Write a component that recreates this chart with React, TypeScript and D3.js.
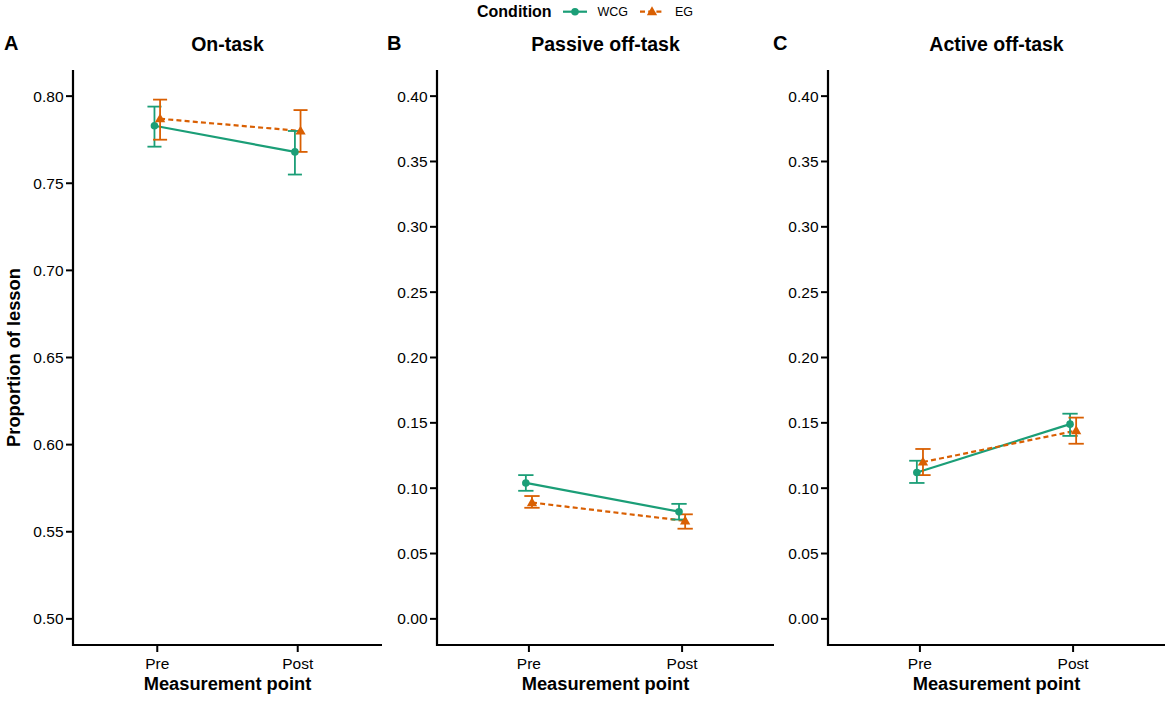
import * as d3 from 'd3';
import React from 'react';

const phases = ['Pre', 'Post'];
const conditions = ['WCG', 'EG'];
const colors: Record<string, string> = { WCG: '#1B9E77', EG: '#D95F02' };

// means and 95% CI per phase (Pre, Post)
const onTaskWCG = [0.783, 0.768];
const onTaskWCGLo = [0.771, 0.755];
const onTaskWCGHi = [0.794, 0.780];
const onTaskEG = [0.787, 0.780];
const onTaskEGLo = [0.775, 0.768];
const onTaskEGHi = [0.798, 0.792];

const passiveWCG = [0.104, 0.082];
const passiveWCGLo = [0.098, 0.076];
const passiveWCGHi = [0.110, 0.088];
const passiveEG = [0.089, 0.075];
const passiveEGLo = [0.085, 0.069];
const passiveEGHi = [0.094, 0.080];

const activeWCG = [0.112, 0.149];
const activeWCGLo = [0.104, 0.140];
const activeWCGHi = [0.121, 0.157];
const activeEG = [0.120, 0.144];
const activeEGLo = [0.110, 0.134];
const activeEGHi = [0.130, 0.154];

const onTaskTicks = [0.5, 0.55, 0.6, 0.65, 0.7, 0.75, 0.8];
const offTaskTicks = [0, 0.05, 0.1, 0.15, 0.2, 0.25, 0.3, 0.35, 0.4];

type Series = { cond: string; mean: number[]; lo: number[]; hi: number[] };

const panels = [
  {
    tag: 'A',
    title: 'On-task',
    limits: [0.5, 0.8],
    ticks: onTaskTicks,
    series: [
      { cond: 'WCG', mean: onTaskWCG, lo: onTaskWCGLo, hi: onTaskWCGHi },
      { cond: 'EG', mean: onTaskEG, lo: onTaskEGLo, hi: onTaskEGHi },
    ] as Series[],
    tagX: 4,
    x0: 73,
    x1: 382,
  },
  {
    tag: 'B',
    title: 'Passive off-task',
    limits: [0, 0.4],
    ticks: offTaskTicks,
    series: [
      { cond: 'WCG', mean: passiveWCG, lo: passiveWCGLo, hi: passiveWCGHi },
      { cond: 'EG', mean: passiveEG, lo: passiveEGLo, hi: passiveEGHi },
    ] as Series[],
    tagX: 387,
    x0: 437,
    x1: 774,
  },
  {
    tag: 'C',
    title: 'Active off-task',
    limits: [0, 0.4],
    ticks: offTaskTicks,
    series: [
      { cond: 'WCG', mean: activeWCG, lo: activeWCGLo, hi: activeWCGHi },
      { cond: 'EG', mean: activeEG, lo: activeEGLo, hi: activeEGHi },
    ] as Series[],
    tagX: 773,
    x0: 828,
    x1: 1165,
  },
];

const FONT = '"Liberation Sans", Arial, Helvetica, sans-serif';
const top = 70;
const bottom = 645;

function Marker({ cond, x, y }: { cond: string; x: number; y: number }) {
  if (cond === 'WCG') return <circle cx={x} cy={y} r={3.8} fill={colors.WCG} />;
  const s = d3.symbol(d3.symbolTriangle, 46)();
  return <path d={s as string} transform={`translate(${x},${y + 0.6})`} fill={colors.EG} />;
}

function Panel({ p }: { p: (typeof panels)[number] }) {
  const lo = p.limits[0];
  const hi = p.limits[1];
  const pad = (hi - lo) * 0.05;
  const y = d3.scaleLinear().domain([lo - pad, hi + pad]).range([bottom, top]);
  const x = d3.scalePoint<string>().domain(phases).range([p.x0, p.x1]).padding(0.6);
  const step = x.step();
  const dodge = (cond: string) => (cond === 'WCG' ? -0.02 : 0.02) * step;
  const cap = 0.05 * step;
  const cx = (p.x0 + p.x1) / 2;

  return (
    <g>
      <text x={p.tagX} y={50} fontSize={20} fontWeight="bold">{p.tag}</text>
      <text x={cx} y={51} fontSize={19.5} fontWeight="bold" textAnchor="middle">{p.title}</text>

      {/* lines */}
      {p.series.map(s => {
        const pts = s.mean.map((m, i) => [(x(phases[i]) as number) + dodge(s.cond), y(m)] as [number, number]);
        return (
          <path
            key={s.cond}
            d={d3.line()(pts) as string}
            fill="none"
            stroke={colors[s.cond]}
            strokeWidth={2.2}
            strokeDasharray={s.cond === 'EG' ? '5,3.2' : undefined}
          />
        );
      })}

      {/* error bars */}
      {p.series.map(s =>
        phases.map((ph, i) => {
          const xc = (x(ph) as number) + dodge(s.cond);
          return (
            <g key={s.cond + ph} stroke={colors[s.cond]} strokeWidth={1.8} fill="none">
              <line x1={xc} x2={xc} y1={y(s.lo[i])} y2={y(s.hi[i])} />
              <line x1={xc - cap} x2={xc + cap} y1={y(s.lo[i])} y2={y(s.lo[i])} />
              <line x1={xc - cap} x2={xc + cap} y1={y(s.hi[i])} y2={y(s.hi[i])} />
            </g>
          );
        })
      )}

      {/* points */}
      {p.series.map(s =>
        phases.map((ph, i) => (
          <Marker key={s.cond + ph} cond={s.cond} x={(x(ph) as number) + dodge(s.cond)} y={y(s.mean[i])} />
        ))
      )}

      {/* y axis */}
      <line x1={p.x0} x2={p.x0} y1={top} y2={bottom + 1} stroke="#000" strokeWidth={2.2} />
      {p.ticks.map(t => (
        <g key={t}>
          <line x1={p.x0 - 7} x2={p.x0} y1={y(t)} y2={y(t)} stroke="#000" strokeWidth={2} />
          <text x={p.x0 - 9.5} y={y(t)} dy="0.36em" fontSize={15.5} textAnchor="end" fill="#000">
            {d3.format('.2f')(t)}
          </text>
        </g>
      ))}

      {/* x axis */}
      <line x1={p.x0 - 1} x2={p.x1} y1={bottom} y2={bottom} stroke="#000" strokeWidth={2.2} />
      {phases.map(ph => (
        <g key={ph}>
          <line x1={x(ph)} x2={x(ph)} y1={bottom} y2={bottom + 7} stroke="#000" strokeWidth={2} />
          <text x={x(ph)} y={669} fontSize={15.5} textAnchor="middle" fill="#000">{ph}</text>
        </g>
      ))}
      <text x={cx} y={690} fontSize={18.3} fontWeight="bold" textAnchor="middle">Measurement point</text>
    </g>
  );
}

export default function App() {
  const legendItems = [
    { cond: 'WCG', x0: 563, tx: 597.5 },
    { cond: 'EG', x0: 640, tx: 675 },
  ];
  return (
    <svg
      width={1170}
      height={702}
      style={{ position: 'absolute', left: 0, top: 0, background: '#fff' }}
      fontFamily={FONT}
    >
      <rect width={1170} height={702} fill="#fff" />
      <text x={477} y={17.3} fontSize={16} fontWeight="bold">Condition</text>
      {legendItems.map(l => (
        <g key={l.cond}>
          <line
            x1={l.x0}
            x2={l.x0 + 24}
            y1={11.7}
            y2={11.7}
            stroke={colors[l.cond]}
            strokeWidth={2.2}
            strokeDasharray={l.cond === 'EG' ? '5,3.2' : undefined}
          />
          <Marker cond={l.cond} x={l.x0 + 12} y={11.7} />
          <text x={l.tx} y={16.4} fontSize={12.5}>{l.cond}</text>
        </g>
      ))}
      {conditions.length > 0 && panels.map(p => <Panel key={p.tag} p={p} />)}
      <text
        transform="translate(20,357.5) rotate(-90)"
        fontSize={18.3}
        fontWeight="bold"
        textAnchor="middle"
      >
        Proportion of lesson
      </text>
    </svg>
  );
}
